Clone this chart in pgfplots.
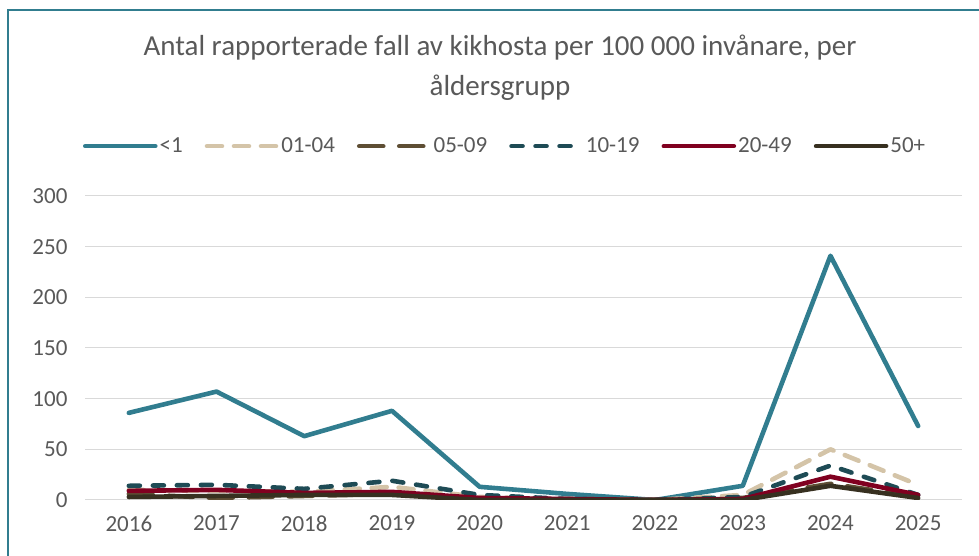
\documentclass[border=0pt]{standalone}
\usepackage{fontspec}
\setmainfont{Carlito}
\usepackage{pgfplots}
\pgfplotsset{compat=1.18}
\definecolor{cA}{RGB}{49,125,143}
\definecolor{cB}{RGB}{212,196,168}
\definecolor{cC}{RGB}{94,78,52}
\definecolor{cD}{RGB}{30,75,85}
\definecolor{cE}{RGB}{128,0,32}
\definecolor{cF}{RGB}{55,48,32}
\definecolor{txt}{RGB}{89,89,89}
\definecolor{gridc}{RGB}{217,217,217}
\begin{document}
\begin{tikzpicture}
\useasboundingbox (0pt,0pt) rectangle (979pt,556pt);
\draw[color=cA, line width=1.3pt] (8pt,-20pt) -- (8pt,546pt) -- (1000pt,546pt);
\node[text=txt, font=\fontsize{29}{40}\selectfont, align=center] at (500pt,488pt) {Antal rapporterade fall av kikhosta per 100 000 invånare, per\\åldersgrupp};
\begin{axis}[
  at={(85pt,56pt)}, anchor=south west,
  scale only axis, width=877pt, height=304pt,
  xmin=2015.5, xmax=2025.5, ymin=0, ymax=300,
  axis line style={draw=none},
  tick style={draw=none},
  ymajorgrids, grid style={gridc, line width=1pt},
  xtick={2016,...,2025},
  xticklabels={2016,2017,2018,2019,2020,2021,2022,2023,2024,2025},
  ytick={0,50,...,300},
  /pgf/number format/assume math mode=true,
  ticklabel style={font=\fontsize{23}{28}\selectfont, text=txt},
  yticklabel style={xshift=-14pt},
  xticklabel style={yshift=-12pt},
  legend columns=6,
  legend style={draw=none, fill=none, at={(0.479,1.164)}, anchor=center,
    font=\fontsize{23}{28}\selectfont, text=txt,
    /tikz/every even column/.append style={column sep=20pt},
    inner sep=0pt, cells={anchor=west}},
  legend image code/.code={\draw[#1] (0pt,0pt) -- (70pt,0pt);},
  every axis plot/.append style={line width=4.6pt, line cap=round, line join=round},
]
\addplot[cA] coordinates {(2016,86)(2017,107)(2018,63)(2019,88)(2020,13)(2021,6)(2022,0)(2023,14)(2024,241)(2025,73)};
\addlegendentry{<1}
\addplot[cB, dash pattern=on 15pt off 12pt] coordinates {(2016,10)(2017,9)(2018,8)(2019,13)(2020,3)(2021,1)(2022,0)(2023,5)(2024,50)(2025,15)};
\addlegendentry{01-04}
\addplot[cC, dash pattern=on 24pt off 16pt] coordinates {(2016,6)(2017,2)(2018,4)(2019,6)(2020,1)(2021,0)(2022,0)(2023,2)(2024,16)(2025,3)};
\addlegendentry{05-09}
\addplot[cD, dash pattern=on 11pt off 13pt] coordinates {(2016,14)(2017,15)(2018,11)(2019,19)(2020,5)(2021,1)(2022,0)(2023,3)(2024,34)(2025,5)};
\addlegendentry{10-19}
\addplot[cE] coordinates {(2016,9)(2017,10)(2018,7)(2019,8)(2020,2)(2021,1)(2022,0)(2023,1)(2024,23)(2025,5)};
\addlegendentry{20-49}
\addplot[cF] coordinates {(2016,3)(2017,4)(2018,5)(2019,5)(2020,0)(2021,0)(2022,0)(2023,0)(2024,14)(2025,2)};
\addlegendentry{50+}
\end{axis}
\end{tikzpicture}
\end{document}
